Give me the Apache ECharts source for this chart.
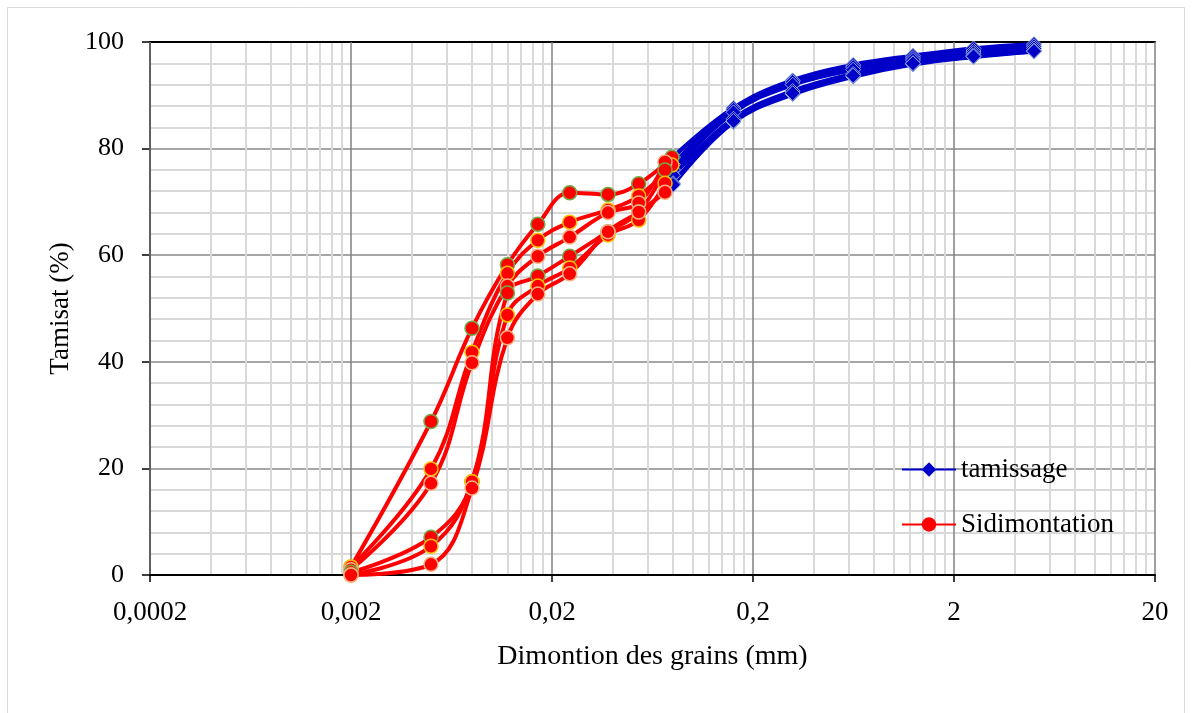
<!DOCTYPE html>
<html>
<head>
<meta charset="utf-8">
<script src="https://cdn.jsdelivr.net/npm/echarts@6/dist/echarts.min.js"></script>
<style>
html,body{margin:0;padding:0;background:#fff;}
#chart{width:1192px;height:713px;}
</style>
</head>
<body>
<div id="chart"></div>
<script>
// ---- Data ----
const xTickLabels = [0.0002, 0.002, 0.02, 0.2, 2, 20];
const yTicks = [0, 20, 40, 60, 80, 100];

// Sieving (tamissage) sizes in mm
const sieveSizes = [0.08, 0.16, 0.315, 0.63, 1.25, 2.5, 5];
const sieve1 = [78.4, 87.6, 92.8, 95.7, 97.4, 98.8, 99.6];
const sieve2 = [77.0, 87.3, 92.5, 95.3, 97.0, 98.3, 99.2];
const sieve3 = [76.0, 86.8, 92.0, 94.8, 96.6, 97.9, 98.8];
const sieve4 = [75.0, 85.6, 90.8, 94.0, 96.0, 97.5, 98.4];
const sieve5 = [73.5, 85.0, 90.2, 93.5, 95.8, 97.2, 98.2];
const sieve6 = [73.2, 85.2, 90.4, 93.7, 96.0, 97.3, 98.3];

// Sedimentation sizes in mm
const sedSizesA = [0.002, 0.005, 0.008, 0.012, 0.017, 0.0245, 0.038, 0.054, 0.079];
const sedSizesB = [0.002, 0.005, 0.008, 0.012, 0.017, 0.0245, 0.038, 0.054, 0.073];
const sed1 = [1.5, 28.8, 46.3, 58.2, 65.8, 71.7, 71.4, 73.4, 78.4];
const sed2 = [1.5, 19.9, 41.8, 56.6, 62.8, 66.2, 68.5, 71.1, 76.9];
const sed3 = [1.0, 17.2, 39.8, 54.2, 59.8, 63.4, 68.0, 69.8, 77.5];
const sed4 = [0.5, 7.1, 17.5, 52.9, 56.1, 59.8, 64.4, 68.1, 76.0];
const sed5 = [0.0, 5.4, 17.5, 48.8, 54.2, 57.6, 63.8, 66.6, 73.5];
const sed6 = [0.0, 2.0, 16.3, 44.5, 52.7, 56.5, 64.4, 68.1, 71.8];

// ---- Build ----
const zip = (xs, ys) => xs.map((x, i) => [x, ys[i]]);
const minorValues = [];
for (let d = 0; d < 5; d++) {
  const base = xTickLabels[d];
  for (let k = 2; k <= 9; k++) minorValues.push(+(base * k).toPrecision(6));
}

const sieveSets = [sieve1, sieve2, sieve3, sieve4, sieve5, sieve6];
const sedSets = [
  [sedSizesA, sed1], [sedSizesA, sed2], [sedSizesB, sed3],
  [sedSizesB, sed4], [sedSizesB, sed5], [sedSizesB, sed6]
];
const redBorders = ['#70ad47', '#ffc000', '#f4b183', '#70ad47', '#ffc000', '#f4b183'];

const series = [];
sieveSets.forEach((vals) => {
  series.push({
    name: 'tamissage', type: 'line', xAxisIndex: 0, smooth: 0.4,
    data: zip(sieveSizes, vals),
    symbol: 'diamond', symbolSize: 15,
    lineStyle: { color: '#0000c8', width: 4.5 },
    itemStyle: { color: '#0000c8', borderColor: '#8eaadb', borderWidth: 1 },
    z: 3
  });
});
sedSets.forEach(([xs, ys], i) => {
  series.push({
    name: 'Sidimontation', type: 'line', xAxisIndex: 0, smooth: 0.4,
    data: zip(xs, ys),
    symbol: 'circle', symbolSize: 14,
    lineStyle: { color: '#ff0000', width: 4 },
    itemStyle: { color: '#ff0000', borderColor: redBorders[i], borderWidth: 1.5 },
    z: 4
  });
});

const font = 'Liberation Serif';
const chart = echarts.init(document.getElementById('chart'));
chart.setOption({
  animation: false,
  backgroundColor: '#ffffff',
  graphic: [{
    type: 'rect', shape: { x: 7.5, y: 7.5, width: 1177, height: 712 },
    style: { fill: 'none', stroke: '#d9d9d9', lineWidth: 1 }, z: -10
  }],
  grid: { left: 150, right: 37, top: 42, bottom: 138, containLabel: false },
  legend: {
    data: ['tamissage', 'Sidimontation'],
    orient: 'vertical', left: 896, top: 451,
    itemWidth: 54, itemHeight: 18, itemGap: 28,
    textStyle: { fontFamily: font, fontSize: 27, color: '#000' },
    itemStyle: { borderWidth: 0 }
  },
  xAxis: [{
    type: 'log', logBase: 10, min: 0.0002, max: 20,
    name: 'Dimontion des grains (mm)', nameLocation: 'middle', nameGap: 68,
    nameTextStyle: { fontFamily: font, fontSize: 28, color: '#000' },
    axisLine: { show: true, lineStyle: { color: '#000', width: 2 } },
    axisTick: { show: true, length: 7, inside: false, customValues: xTickLabels, lineStyle: { color: '#000', width: 1.5 } },
    axisLabel: {
      customValues: xTickLabels, margin: 24,
      fontFamily: font, fontSize: 27, color: '#000',
      formatter: (v) => String(+v.toPrecision(6)).replace('.', ',')
    },
    splitLine: { show: true, lineStyle: { color: '#808080', width: 1.5 } },
    minorTick: { show: false }, minorSplitLine: { show: false },
    z: 2
  }, {
    type: 'log', logBase: 10, min: 0.0002, max: 20, position: 'top',
    axisLine: { show: true, lineStyle: { color: '#000', width: 2 } },
    axisTick: { show: false, customValues: minorValues },
    axisLabel: { show: false },
    splitLine: { show: true, lineStyle: { color: '#d9d9d9', width: 2 } },
    z: 1
  }],
  yAxis: {
    type: 'value', min: 0, max: 100, interval: 20,
    name: 'Tamisat (%)', nameLocation: 'middle', nameGap: 76,
    nameTextStyle: { fontFamily: font, fontSize: 27, color: '#000' },
    axisLine: { show: true, lineStyle: { color: '#000', width: 2 } },
    axisTick: { show: true, length: 8, lineStyle: { color: '#000', width: 1.5 } },
    axisLabel: { margin: 26, fontFamily: font, fontSize: 26, color: '#000' },
    splitLine: { show: true, lineStyle: { color: '#a6a6a6', width: 2 } },
    minorTick: { show: false, splitNumber: 5 },
    minorSplitLine: { show: true, lineStyle: { color: '#d9d9d9', width: 2 } }
  },
  series: series
});
</script>
</body>
</html>
